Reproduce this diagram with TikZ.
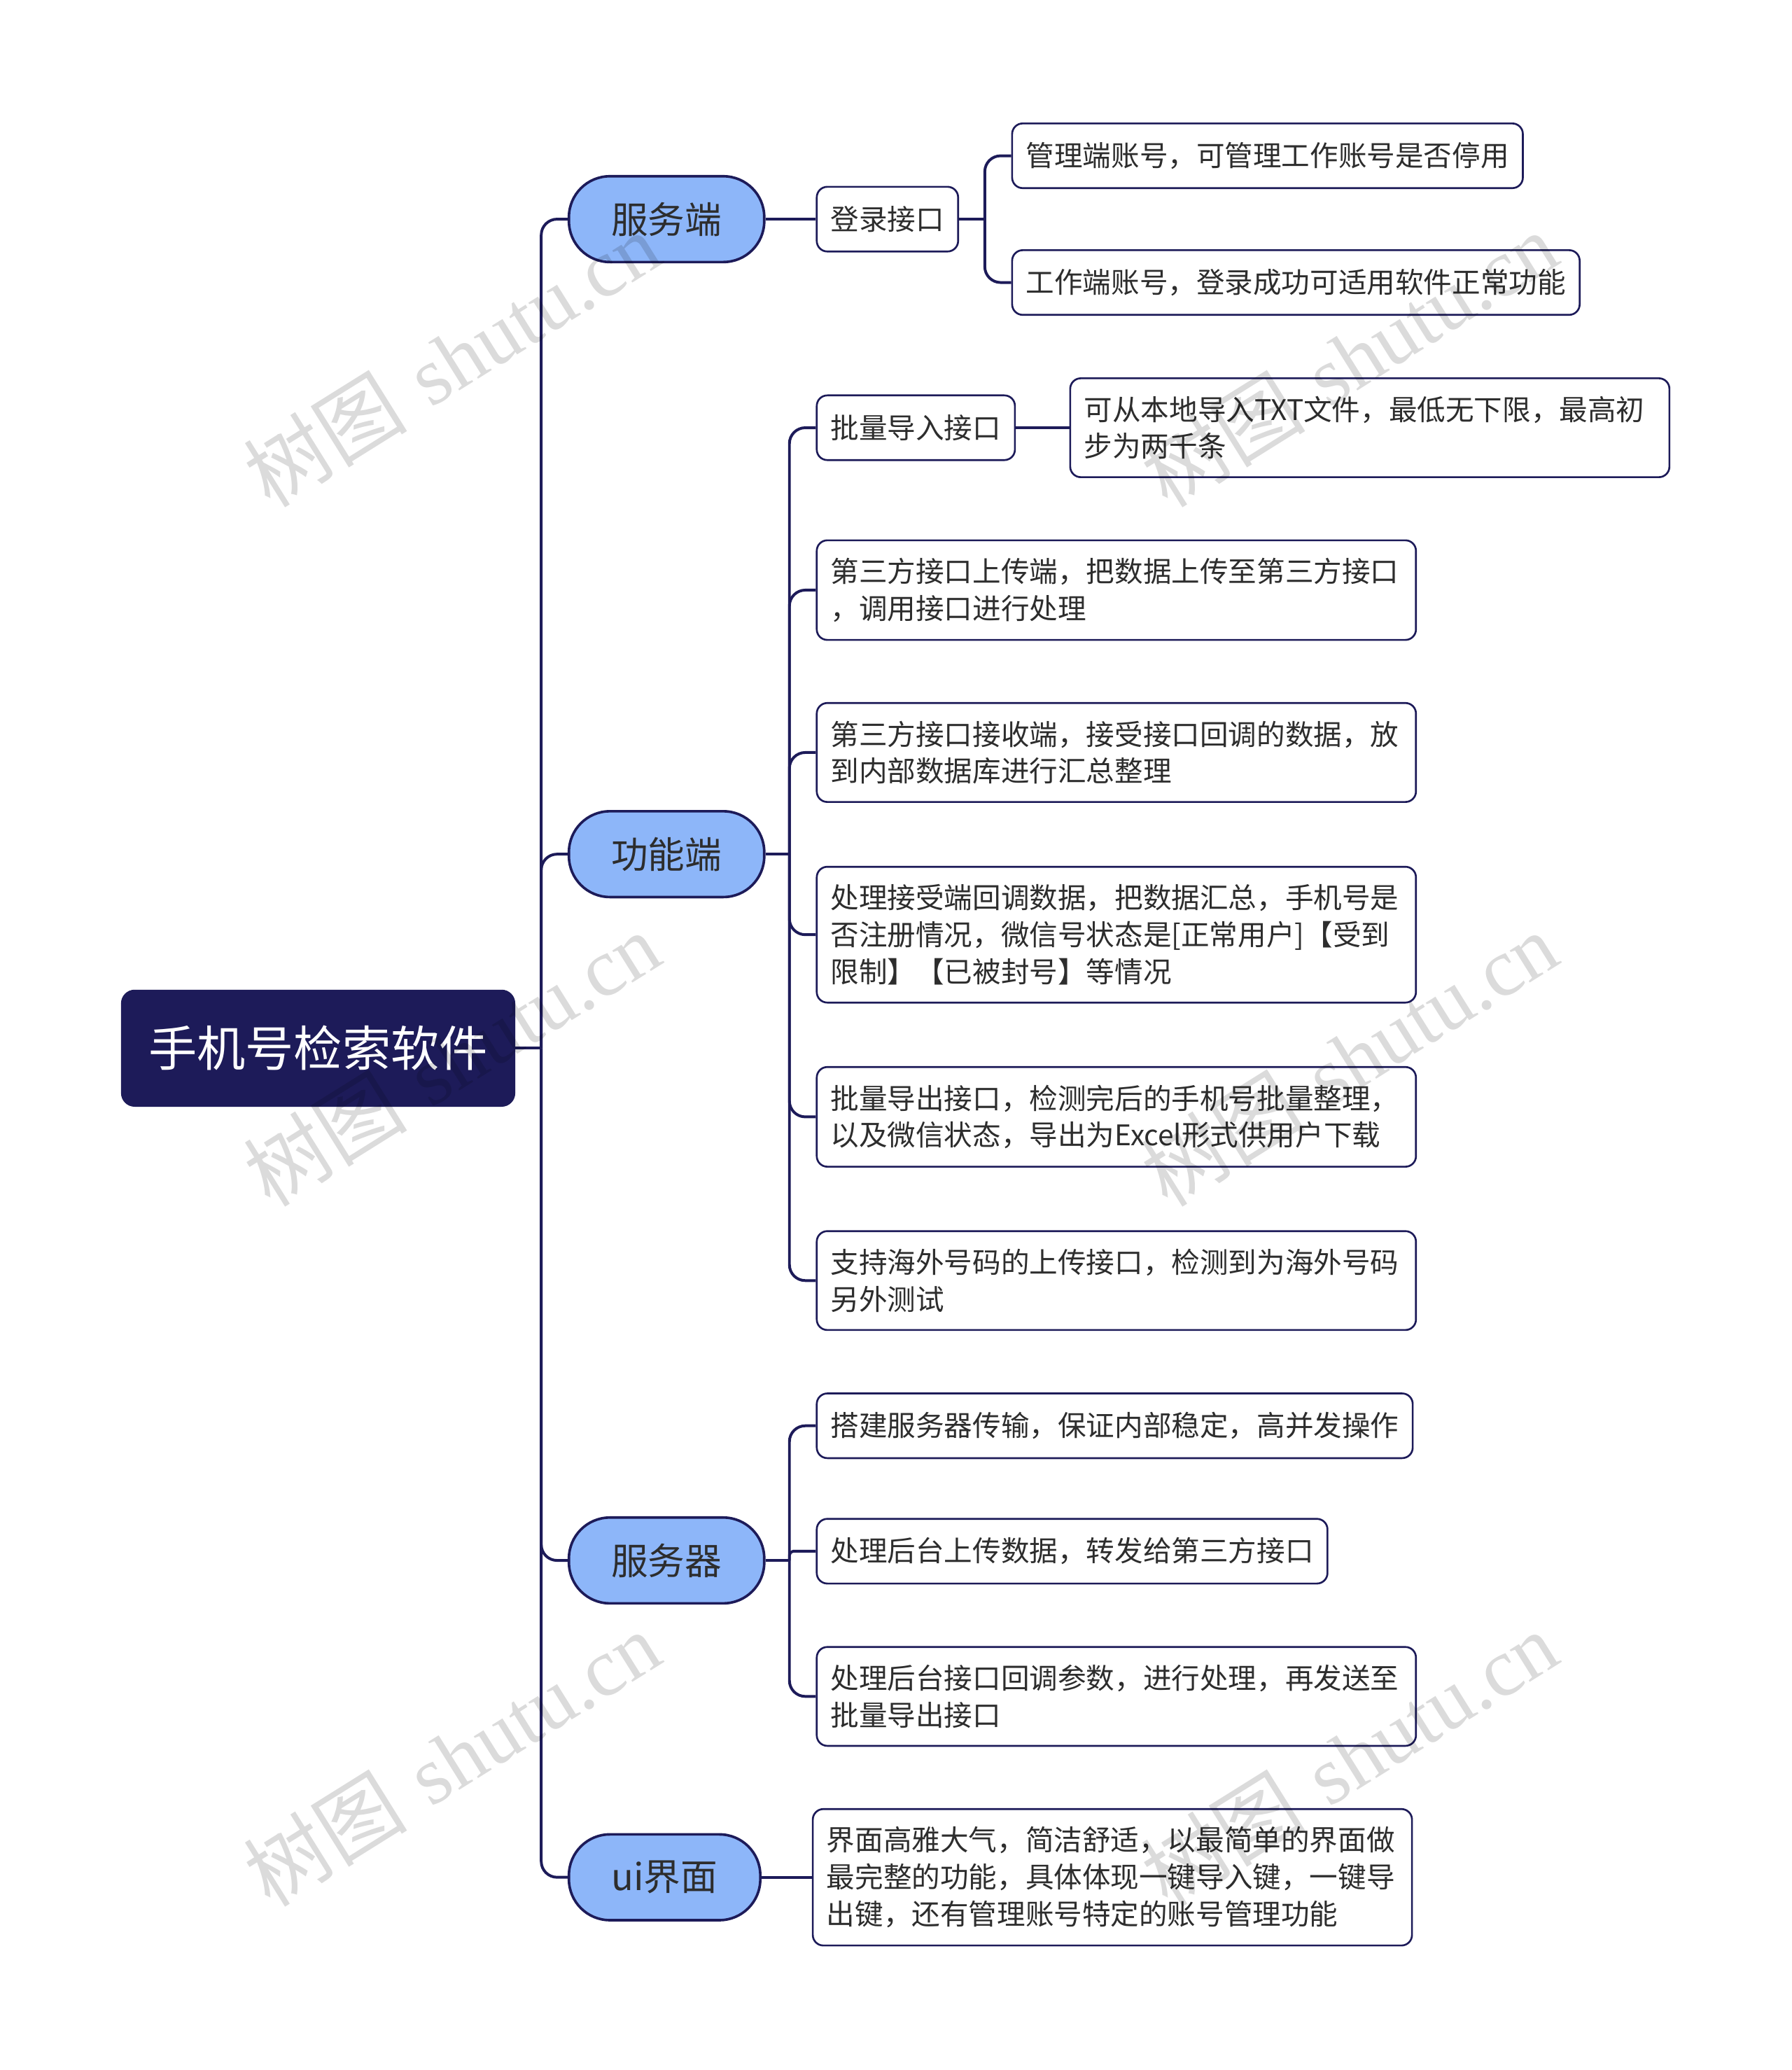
\documentclass[tikz,border=0pt]{standalone}
\usepackage{fontspec}
\newfontfamily\cjk{Noto Sans CJK SC}
\newfontfamily\wmfont{Liberation Serif}
\usetikzlibrary{positioning}
\definecolor{navy}{RGB}{29,27,89}
\definecolor{pillblue}{RGB}{141,182,249}
\definecolor{txtgray}{RGB}{45,45,45}

\begin{document}
\begin{tikzpicture}[
    x=0.02cm, y=-0.02cm,
    root/.style={rectangle, draw=navy, fill=navy, rounded corners=0.2cm, minimum width=5.96cm, minimum height=1.76cm, text=white, font=\cjk\fontsize{20.9}{25}\selectfont},
    topic/.style={rectangle, draw=navy, line width=1.1pt, fill=pillblue, rounded corners=0.62cm, minimum width=2.96cm, minimum height=1.3cm, text=txtgray, font=\cjk\fontsize{15.9}{19}\selectfont, anchor=west},
    leaf/.style={rectangle, draw=navy, line width=0.8pt, fill=white, rounded corners=0.16cm, inner xsep=0.21cm, inner ysep=0.27cm, minimum height=0.98cm, text=txtgray, font=\cjk\fontsize{12.25}{15.9}\selectfont, anchor=west},
    wide/.style={leaf, text width=8.66cm, align=left},
    branch/.style={draw=navy, line width=1.2pt, rounded corners=0.24cm},
    watermark/.style={rotate=32, text=black, text opacity=0.14, font=\fontsize{35.5}{38}\selectfont},
]
\useasboundingbox (0,0) rectangle (1357,1568);

\node[root] (root) at (241,794) {手机号检索软件};

\node[topic] (fw) at (430,166) {服务端};
\node[topic] (gn) at (430,647) {功能端};
\node[topic] (fwq) at (430,1182) {服务器};
\node[topic, minimum width=2.9cm] (ui) at (430,1422) {ui界面};

\coordinate (trunk) at (410,794);
\draw[branch] (root.east) -- (trunk);
\draw[branch] (trunk) |- (fw.west);
\draw[branch] (trunk) |- (gn.west);
\draw[branch] (trunk) |- (fwq.west);
\draw[branch] (trunk) |- (ui.west);

% 服务端
\node[leaf] (dl) at (618,166) {登录接口};
\node[leaf] (gl) at (766,118) {管理端账号，可管理工作账号是否停用};
\node[leaf] (gz) at (766,214) {工作端账号，登录成功可适用软件正常功能};

\coordinate (dlj) at (746,166);
\draw[branch] (fw.east) -- (dl.west);
\draw[branch] (dl.east) -- (dlj);
\draw[branch] (dlj) |- (gl.west);
\draw[branch] (dlj) |- (gz.west);

% 功能端
\node[leaf] (pi) at (618,324) {批量导入接口};
\node[wide] (txt) at (810,324) {可从本地导入TXT文件，最低无下限，最高初\\步为两千条};
\node[wide] (sc) at (618,447) {第三方接口上传端，把数据上传至第三方接口\\，调用接口进行处理};
\node[wide] (js) at (618,570) {第三方接口接收端，接受接口回调的数据，放\\到内部数据库进行汇总整理};
\node[wide] (cl) at (618,708) {处理接受端回调数据，把数据汇总，手机号是\\否注册情况，微信号状态是[正常用户]【受到\\限制】【已被封号】等情况};
\node[wide] (dc) at (618,846) {批量导出接口，检测完后的手机号批量整理，\\以及微信状态，导出为Excel形式供用户下载};
\node[wide] (hw) at (618,970) {支持海外号码的上传接口，检测到为海外号码\\另外测试};

\coordinate (gnj) at (598,647);
\draw[branch] (gn.east) -- (gnj);
\draw[branch] (gnj) |- (pi.west);
\draw[branch] (gnj) |- (sc.west);
\draw[branch] (gnj) |- (js.west);
\draw[branch] (gnj) |- (cl.west);
\draw[branch] (gnj) |- (dc.west);
\draw[branch] (gnj) |- (hw.west);
\draw[branch] (pi.east) -- (txt.west);

% 服务器
\node[leaf] (fq1) at (618,1080) {搭建服务器传输，保证内部稳定，高并发操作};
\node[leaf] (fq2) at (618,1175) {处理后台上传数据，转发给第三方接口};
\node[wide] (fq3) at (618,1285) {处理后台接口回调参数，进行处理，再发送至\\批量导出接口};

\coordinate (fwqj) at (598,1182);
\draw[branch] (fwq.east) -- (fwqj);
\draw[branch] (fwqj) |- (fq1.west);
\draw[branch, rounded corners=0.06cm] (fwqj) |- (fq2.west);
\draw[branch] (fwqj) |- (fq3.west);

% ui界面
\node[wide] (uic) at (615,1422) {界面高雅大气，简洁舒适，以最简单的界面做\\最完整的功能，具体体现一键导入键，一键导\\出键，还有管理账号特定的账号管理功能};
\draw[branch] (ui.east) -- (uic.west);

% watermarks
\node[watermark] (wm1) at (342,272) {{\cjk 树图} \wmfont shutu.cn};
\node[watermark] (wm2) at (1022,272) {{\cjk 树图} \wmfont shutu.cn};
\node[watermark] (wm3) at (342,802) {{\cjk 树图} \wmfont shutu.cn};
\node[watermark] (wm4) at (1022,802) {{\cjk 树图} \wmfont shutu.cn};
\node[watermark] (wm5) at (342,1332) {{\cjk 树图} \wmfont shutu.cn};
\node[watermark] (wm6) at (1022,1332) {{\cjk 树图} \wmfont shutu.cn};
\end{tikzpicture}
\end{document}
